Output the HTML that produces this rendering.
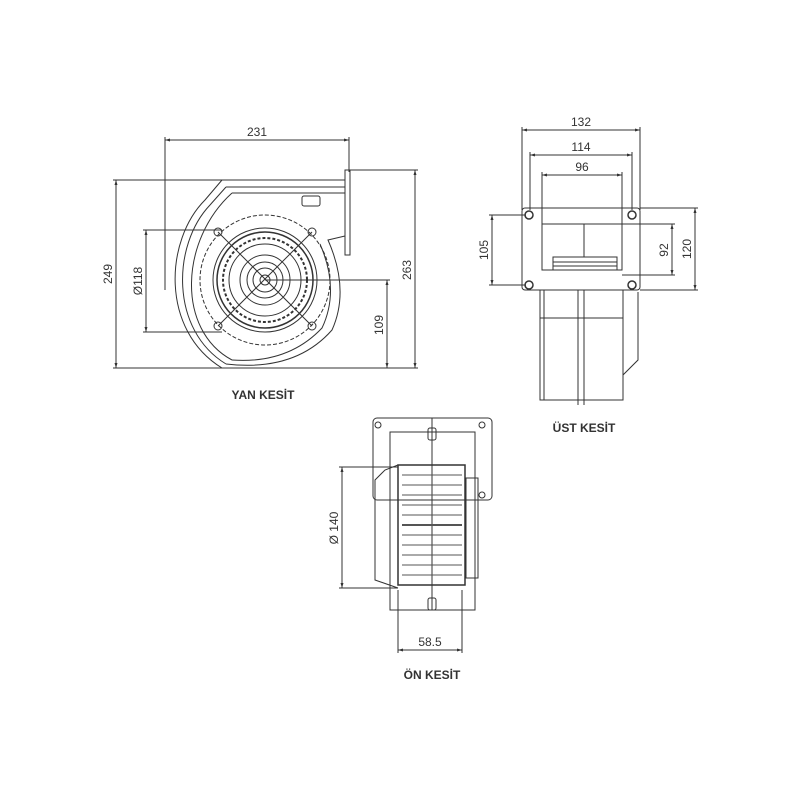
<!DOCTYPE html>
<html><head><style>body{margin:0;background:#fff}svg{display:block}text{font-family:"Liberation Sans",sans-serif;fill:#333}</style></head><body>
<svg width="800" height="800" viewBox="0 0 800 800" xmlns="http://www.w3.org/2000/svg">
<defs><marker id="a" viewBox="0 0 10 10" refX="10" refY="5" markerWidth="7" markerHeight="5" orient="auto-start-reverse"><path d="M0,2 L10,5 L0,8z" fill="#333"/></marker></defs>
<g stroke="#333" fill="none" stroke-width="1">
<line x1="165" y1="140" x2="349" y2="140" marker-start="url(#a)" marker-end="url(#a)"/>
<line x1="165" y1="137" x2="165" y2="290"/><line x1="349" y1="137" x2="349" y2="172"/>
<line x1="116" y1="180" x2="116" y2="368" marker-start="url(#a)" marker-end="url(#a)"/>
<line x1="113" y1="180" x2="222" y2="180"/><line x1="113" y1="368" x2="418" y2="368"/>
<line x1="415" y1="170" x2="415" y2="368" marker-start="url(#a)" marker-end="url(#a)"/>
<line x1="345" y1="170" x2="418" y2="170"/>
<line x1="146" y1="230" x2="146" y2="332" marker-start="url(#a)" marker-end="url(#a)"/>
<line x1="143" y1="230" x2="222" y2="230"/><line x1="143" y1="332" x2="222" y2="332"/>
<line x1="387" y1="280" x2="387" y2="368" marker-start="url(#a)" marker-end="url(#a)"/>
<line x1="265" y1="280" x2="390" y2="280"/>
<rect x="345" y="170" width="5" height="85"/>
<path d="M222,180 L345,180 M222,180 L205,200 C165,240 160,330 222,368 L226,368"/>
<path d="M226,187 L345,187 M226,187 L210,205 C172,245 170,330 226,364"/>
<path d="M232,193 L345,193 M232,193 C180,240 176,330 232,360"/>
<path d="M226,364 Q295,372 332,330 Q350,290 328,240 L345,236"/>
<path d="M232,360 Q288,364 322,328 Q340,290 320,244"/>
<rect x="302" y="196" width="18" height="10" rx="2"/>
<circle cx="265" cy="280" r="65" stroke-dasharray="4,2"/>
<circle cx="265" cy="280" r="52"/><circle cx="265" cy="280" r="48" stroke-width="1.5"/>
<circle cx="265" cy="280" r="42" stroke-dasharray="3,2" stroke-width="2"/>
<circle cx="265" cy="280" r="36"/><circle cx="265" cy="280" r="25"/><circle cx="265" cy="280" r="18"/><circle cx="265" cy="280" r="12"/><circle cx="265" cy="280" r="5"/>
<line x1="218" y1="232" x2="312" y2="326"/><line x1="312" y1="232" x2="218" y2="326"/>
<circle cx="218" cy="232" r="4"/><circle cx="312" cy="232" r="4"/><circle cx="218" cy="326" r="4"/><circle cx="312" cy="326" r="4"/>
<line x1="522" y1="130" x2="640" y2="130" marker-start="url(#a)" marker-end="url(#a)"/>
<line x1="530" y1="155" x2="632" y2="155" marker-start="url(#a)" marker-end="url(#a)"/>
<line x1="542" y1="175" x2="622" y2="175" marker-start="url(#a)" marker-end="url(#a)"/>
<line x1="522" y1="127" x2="522" y2="210"/><line x1="640" y1="127" x2="640" y2="210"/>
<line x1="530" y1="152" x2="530" y2="210"/><line x1="632" y1="152" x2="632" y2="210"/>
<line x1="542" y1="172" x2="542" y2="224"/><line x1="622" y1="172" x2="622" y2="224"/>
<rect x="522" y="208" width="118" height="82" rx="3"/>
<circle cx="529" cy="215" r="4" stroke-width="1.5"/><circle cx="632" cy="215" r="4" stroke-width="1.5"/><circle cx="529" cy="285" r="4" stroke-width="1.5"/><circle cx="632" cy="285" r="4" stroke-width="1.5"/>
<rect x="542" y="224" width="80" height="46"/>
<rect x="553" y="257" width="64" height="13"/><line x1="553" y1="262" x2="617" y2="262"/><line x1="553" y1="266" x2="617" y2="266"/>
<line x1="584" y1="224" x2="584" y2="257"/>
<line x1="492" y1="215" x2="492" y2="285" marker-start="url(#a)" marker-end="url(#a)"/>
<line x1="489" y1="215" x2="526" y2="215"/><line x1="489" y1="285" x2="526" y2="285"/>
<line x1="672" y1="224" x2="672" y2="275" marker-start="url(#a)" marker-end="url(#a)"/>
<line x1="622" y1="224" x2="675" y2="224"/><line x1="622" y1="275" x2="675" y2="275"/>
<line x1="695" y1="208" x2="695" y2="290" marker-start="url(#a)" marker-end="url(#a)"/>
<line x1="640" y1="208" x2="698" y2="208"/><line x1="640" y1="290" x2="698" y2="290"/>
<path d="M540,290 L540,400 L623,400 L623,375 L638,360 L638,292"/>
<line x1="544" y1="290" x2="544" y2="400"/><line x1="578" y1="290" x2="578" y2="405"/><line x1="584" y1="290" x2="584" y2="405"/>
<line x1="540" y1="318" x2="623" y2="318"/><line x1="623" y1="290" x2="623" y2="375"/>
<rect x="373" y="418" width="119" height="82" rx="4"/>
<circle cx="378" cy="425" r="3"/><circle cx="482" cy="425" r="3"/><circle cx="482" cy="495" r="3"/>
<rect x="390" y="432" width="85" height="178"/>
<rect x="398" y="465" width="67" height="120" stroke-width="1.5"/>
<path d="M398,465 L385,470 L375,480 L375,580 L398,588"/>
<rect x="466" y="478" width="12" height="100"/>
<line x1="432" y1="418" x2="432" y2="610"/>
<rect x="428" y="428" width="8" height="12" rx="2"/><rect x="428" y="598" width="8" height="12" rx="2"/>
<g stroke="#555"><line x1="402" y1="475" x2="462" y2="475"/><line x1="402" y1="485" x2="462" y2="485"/><line x1="402" y1="495" x2="462" y2="495"/><line x1="402" y1="505" x2="462" y2="505"/><line x1="402" y1="515" x2="462" y2="515"/><line x1="402" y1="525" x2="462" y2="525" stroke-width="2"/><line x1="402" y1="535" x2="462" y2="535"/><line x1="402" y1="545" x2="462" y2="545"/><line x1="402" y1="555" x2="462" y2="555"/><line x1="402" y1="565" x2="462" y2="565"/><line x1="402" y1="575" x2="462" y2="575"/></g>
<line x1="342" y1="467" x2="342" y2="588" marker-start="url(#a)" marker-end="url(#a)"/>
<line x1="339" y1="467" x2="398" y2="467"/><line x1="339" y1="588" x2="398" y2="588"/>
<line x1="398" y1="650" x2="462" y2="650" marker-start="url(#a)" marker-end="url(#a)"/>
<line x1="398" y1="590" x2="398" y2="653"/><line x1="462" y1="590" x2="462" y2="653"/>
</g>
<g font-size="12">
<text x="257" y="136" text-anchor="middle">231</text>
<text x="112" y="274" text-anchor="middle" transform="rotate(-90 112 274)">249</text>
<text x="142" y="281" text-anchor="middle" transform="rotate(-90 142 281)">Ø118</text>
<text x="411" y="270" text-anchor="middle" transform="rotate(-90 411 270)">263</text>
<text x="383" y="325" text-anchor="middle" transform="rotate(-90 383 325)">109</text>
<text x="581" y="126" text-anchor="middle">132</text>
<text x="581" y="151" text-anchor="middle">114</text>
<text x="582" y="171" text-anchor="middle">96</text>
<text x="488" y="250" text-anchor="middle" transform="rotate(-90 488 250)">105</text>
<text x="668" y="250" text-anchor="middle" transform="rotate(-90 668 250)">92</text>
<text x="691" y="249" text-anchor="middle" transform="rotate(-90 691 249)">120</text>
<text x="338" y="528" text-anchor="middle" transform="rotate(-90 338 528)">Ø 140</text>
<text x="430" y="646" text-anchor="middle">58.5</text>
</g>
<g font-size="12" font-weight="bold">
<text x="263" y="399" text-anchor="middle">YAN KESİT</text>
<text x="584" y="432" text-anchor="middle">ÜST KESİT</text>
<text x="432" y="679" text-anchor="middle">ÖN KESİT</text>
</g>
</svg>
</body></html>
